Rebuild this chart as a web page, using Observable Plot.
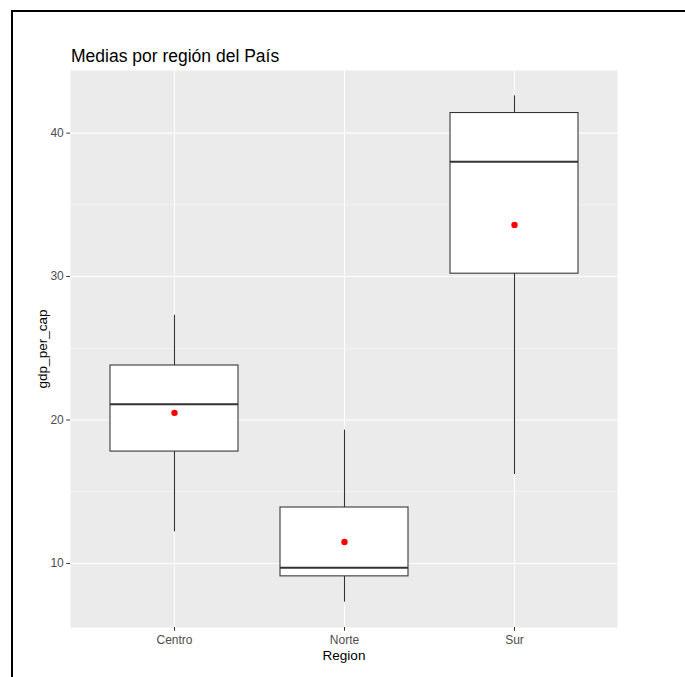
<!DOCTYPE html>
<html>
<head>
<meta charset="utf-8">
<script src="https://cdn.jsdelivr.net/npm/d3@7"></script>
<script src="https://cdn.jsdelivr.net/npm/@observablehq/plot@0.6"></script>
<style>
  html, body { margin: 0; padding: 0; background: white; }
  #wrap { position: relative; width: 685px; height: 677px; overflow: hidden; }
  #chart { position: absolute; left: 0; top: 0; }
  #border { position: absolute; left: 11px; top: 10px; right: 0; bottom: 0;
            border-top: 2px solid #000; border-left: 2px solid #000; pointer-events: none; }
</style>
</head>
<body>
<div id="wrap"><div id="chart"></div><div id="border"></div></div>
<script>
// Data
const regions = ["Centro", "Norte", "Sur"];
const whiskerLow  = [12.2, 7.3, 16.2];
const q1          = [17.8, 9.1, 30.2];
const median      = [21.1, 9.7, 38.0];
const q3          = [23.8, 13.9, 41.4];
const whiskerHigh = [27.3, 19.3, 42.6];
const means       = [20.5, 11.5, 33.6];
const yTicks      = [10, 20, 30, 40];
const yMinor      = [15, 25, 35];

const titleText = "Medias por región del País";
const xLabel = "Region";
const yLabel = "gdp_per_cap";

const rows = regions.map((r, i) => ({
  region: r, lo: whiskerLow[i], q1: q1[i], med: median[i], q3: q3[i], hi: whiskerHigh[i], mean: means[i]
}));

const yMin = d3.min(whiskerLow), yMax = d3.max(whiskerHigh);
const pad = 0.05 * (yMax - yMin);

const font = "'Liberation Sans', Arial, sans-serif";
const hasAxisMarks = typeof Plot.axisY === "function";

const axisMarks = hasAxisMarks ? [
  Plot.axisY(yTicks, { anchor: "left", tickSize: 3.7, tickPadding: 3, stroke: "#333", fill: "#4D4D4D",
    fontSize: 12, label: null }),
  Plot.axisX(regions, { anchor: "bottom", tickSize: 3.7, tickPadding: 4.3, stroke: "#333", fill: "#4D4D4D",
    fontSize: 12, label: null })
] : [];

const chart = Plot.plot({
  width: 685,
  height: 677,
  marginLeft: 70,
  marginRight: 68,
  marginTop: 70,
  marginBottom: 50,
  style: { fontFamily: font, background: "transparent", fontSize: "12px", color: "#4D4D4D" },
  x: hasAxisMarks
    ? { type: "band", domain: regions, paddingInner: 0.25, paddingOuter: 0.225, align: 0.5, axis: null }
    : { type: "band", domain: regions, paddingInner: 0.25, paddingOuter: 0.225, align: 0.5,
        tickSize: 3.7, tickPadding: 4.3, label: null },
  y: hasAxisMarks
    ? { domain: [yMin - pad, yMax + pad], axis: null }
    : { domain: [yMin - pad, yMax + pad], ticks: yTicks, tickSize: 3.7, tickPadding: 3, label: null },
  marks: [
    Plot.frame({ fill: "#EBEBEB", stroke: "none" }),
    Plot.ruleY(yMinor, { stroke: "white", strokeWidth: 0.55 }),
    Plot.ruleY(yTicks, { stroke: "white", strokeWidth: 1.1 }),
    Plot.ruleX(regions, { x: d => d, stroke: "white", strokeWidth: 1.1 }),
    Plot.ruleX(rows, { x: "region", y1: "lo", y2: "hi", stroke: "#333", strokeWidth: 1.07 }),
    Plot.barY(rows, { x: "region", y1: "q1", y2: "q3", fill: "white", stroke: "#333", strokeWidth: 1.07 }),
    Plot.tickY(rows, { x: "region", y: "med", stroke: "#333", strokeWidth: 2.13 }),
    Plot.dot(rows, { x: "region", y: "mean", r: 3.2, fill: "red", stroke: "none" }),
    ...axisMarks,
    Plot.text([titleText], { frameAnchor: "top-left", textAnchor: "start", lineAnchor: "middle",
      dy: -14.1, dx: 0.5, fontSize: 17.5, fill: "black" }),
    Plot.text([xLabel], { frameAnchor: "bottom", textAnchor: "middle", lineAnchor: "middle",
      dy: 27.7, fontSize: 13.5, fill: "black" }),
    Plot.text([yLabel], { frameAnchor: "left", textAnchor: "middle", lineAnchor: "middle",
      rotate: -90, dx: -28.3, fontSize: 13.5, fill: "black" })
  ]
});
document.getElementById("chart").appendChild(chart);
</script>
</body>
</html>
